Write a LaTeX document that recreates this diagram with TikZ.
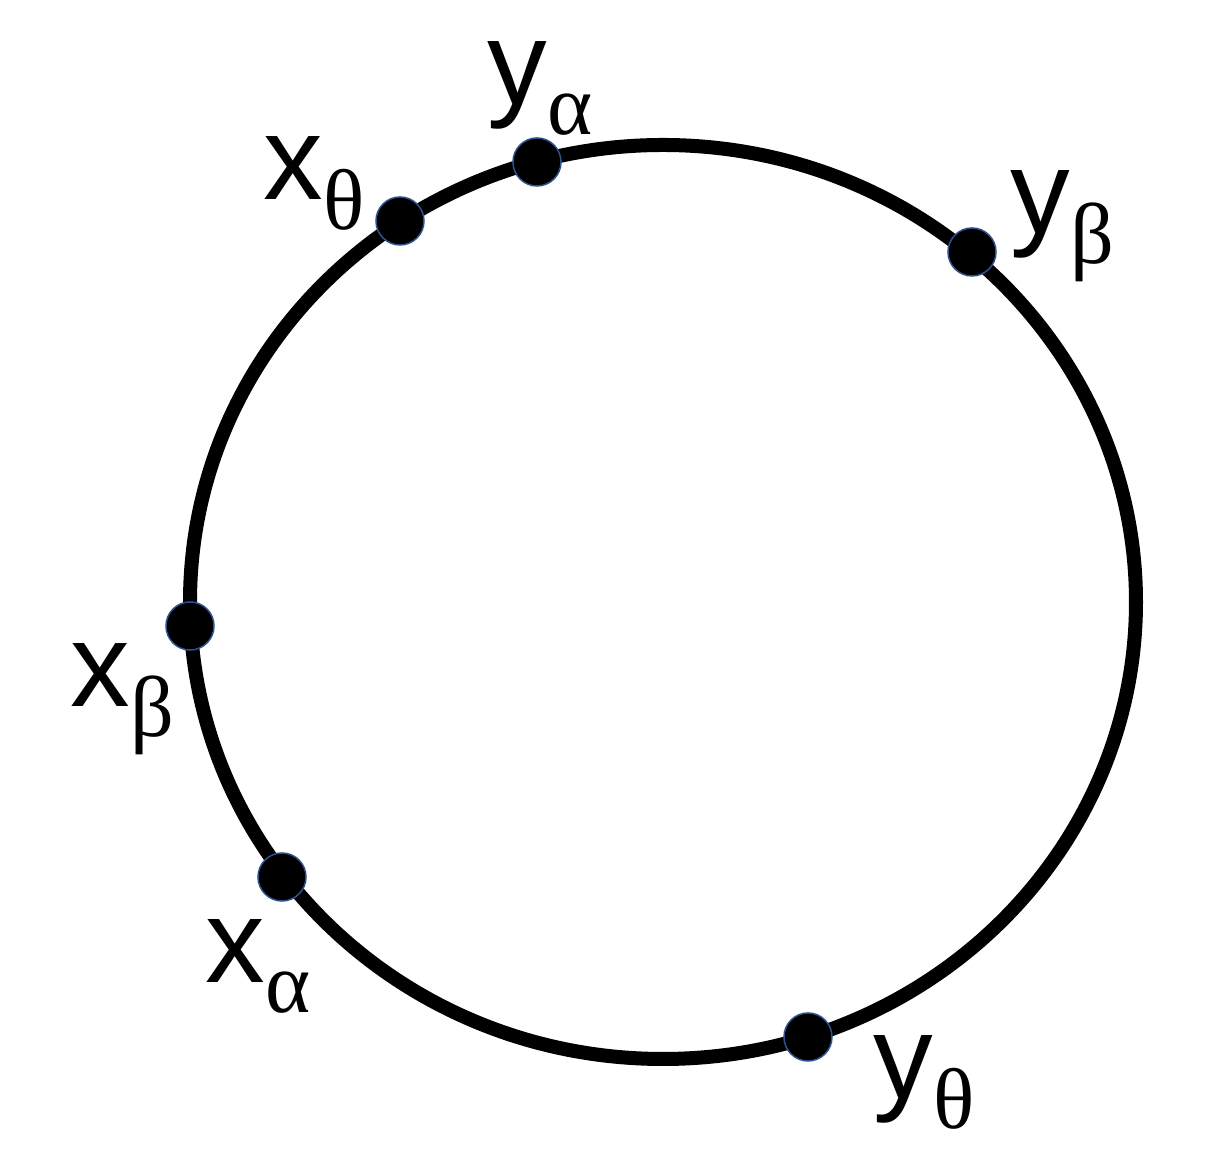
\documentclass[tikz,border=0pt]{standalone}
\usepackage{fontspec}
\setsansfont{Liberation Sans}
\newfontfamily\subgreek{Liberation Serif}
\definecolor{dotrim}{RGB}{47,82,143}
\newcommand{\sublab}[2]{{\sffamily\fontsize{33.9}{40}\selectfont #1}\raisebox{-8.5pt}{\subgreek\fontsize{24.5}{28}\selectfont #2}}

\begin{document}
\begin{tikzpicture}[x=0.01cm, y=0.01cm] % one unit is one pixel of the reference
            \useasboundingbox (0,0) rectangle (1208,-1165);
            % Draw the ring
            \draw[line width=0.14cm] (663,-602) ellipse [x radius=473, y radius=457];
            % Points on the ring
            \tikzset{pt/.style={circle, fill=black, draw=dotrim, line width=0.015cm, minimum size=0.48cm, inner sep=0}}
            \tikzset{lab/.style={anchor=base west, inner sep=0}}
            \node[pt] (ya) at (537,-162) {};
            \node[pt] (xt) at (400,-221) {};
            \node[pt] (yb) at (972,-252) {};
            \node[pt] (xb) at (190,-626) {};
            \node[pt] (xa) at (282,-877) {};
            \node[pt] (yt) at (808,-1037) {};

            % Labels
            \node[lab] (ya label) at (487,-105) {\sublab{y}{α}};
            \node[lab] (xt label) at (263,-200) {\sublab{x}{θ}};
            \node[lab] (yb label) at (1010,-234) {\sublab{y}{β}};
            \node[lab] (xb label) at (70,-707) {\sublab{x}{β}};
            \node[lab] (xa label) at (205,-983) {\sublab{x}{α}};
            \node[lab] (yt label) at (873,-1099) {\sublab{y}{θ}};
        \end{tikzpicture}
\end{document}
